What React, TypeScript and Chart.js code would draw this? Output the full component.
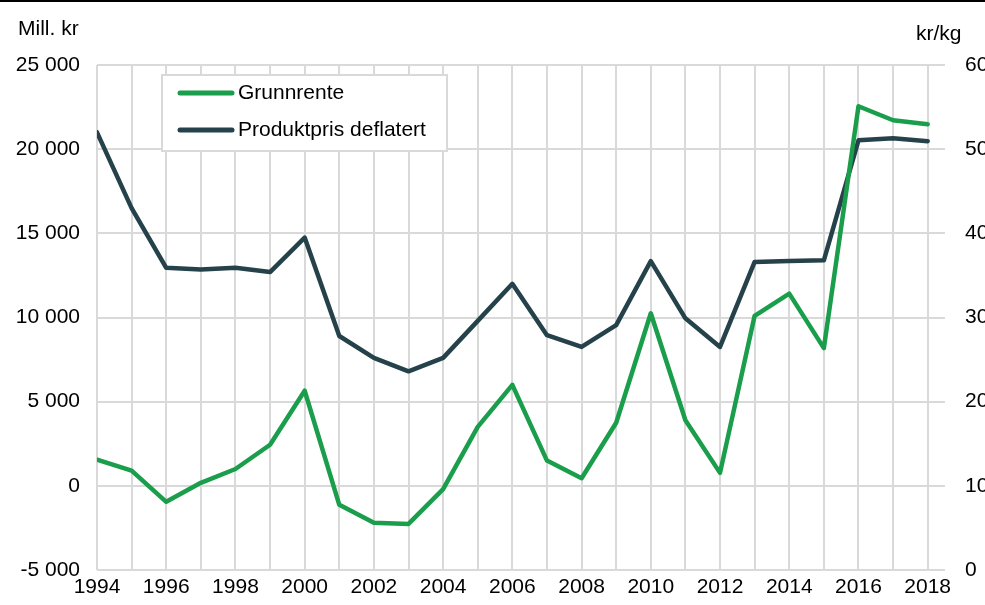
import React, { useEffect, useRef } from "react";
import { Chart, registerables } from "chart.js";

Chart.register(...registerables);

const years = [1994, 1995, 1996, 1997, 1998, 1999, 2000, 2001, 2002, 2003, 2004, 2005, 2006, 2007, 2008, 2009, 2010, 2011, 2012, 2013, 2014, 2015, 2016, 2017, 2018];
const grunnrente = [1550, 900, -950, 180, 1000, 2440, 5650, -1130, -2200, -2260, -200, 3500, 6000, 1500, 450, 3750, 10250, 3900, 770, 10100, 11420, 8180, 22550, 21720, 21480];
const produktpris = [52.0, 43.0, 35.9, 35.7, 35.9, 35.4, 39.5, 27.8, 25.2, 23.6, 25.2, 29.6, 34.0, 27.9, 26.5, 29.1, 36.7, 29.9, 26.5, 36.6, 36.7, 36.8, 51.05, 51.3, 50.95];
const seriesNames = ["Grunnrente", "Produktpris deflatert"];
const leftTitle = "Mill. kr";
const rightTitle = "kr/kg";

const GREEN = "#1a9e4b";
const DARK = "#25424a";
const GRID = "#d9d9d9";
const FONT = "'Liberation Sans', Arial, sans-serif";
const FS = 21;

function fmt(v: number) {
  const s = Math.abs(v).toString().replace(/\B(?=(\d{3})+(?!\d))/g, " ");
  return (v < 0 ? "-" : "") + s;
}

const overlay = {
  id: "overlay",
  afterDraw(chart: any) {
    const ctx = chart.ctx;
    ctx.save();
    // top rule
    ctx.fillStyle = "#000";
    ctx.fillRect(0, 0, chart.width, 2);
    // axis titles
    ctx.font = `${FS}px ${FONT}`;
    ctx.fillStyle = "#000";
    ctx.textBaseline = "middle";
    ctx.textAlign = "left";
    ctx.fillText(leftTitle, 18, 29);
    ctx.fillText(rightTitle, 916, 34);
    // legend
    const bx = 162, by = 75, bw = 285, bh = 76;
    ctx.fillStyle = "#fff";
    ctx.fillRect(bx, by, bw, bh);
    ctx.strokeStyle = GRID;
    ctx.lineWidth = 2;
    ctx.strokeRect(bx, by, bw, bh);
    const rows = [
      { y: 93, c: GREEN, t: seriesNames[0] },
      { y: 130, c: DARK, t: seriesNames[1] },
    ];
    rows.forEach((r) => {
      ctx.strokeStyle = r.c;
      ctx.lineWidth = 5;
      ctx.lineCap = "round";
      ctx.beginPath();
      ctx.moveTo(180, r.y);
      ctx.lineTo(232, r.y);
      ctx.stroke();
      ctx.fillStyle = "#000";
      ctx.fillText(r.t, 238, r.y);
    });
    ctx.restore();
  },
};

export default function App() {
  const ref = useRef<HTMLCanvasElement>(null);
  useEffect(() => {
    if (!ref.current) return;
    const chart = new Chart(ref.current, {
      type: "line",
      data: {
        datasets: [
          {
            label: seriesNames[0],
            data: years.map((y, i) => ({ x: y, y: grunnrente[i] })),
            borderColor: GREEN,
            backgroundColor: GREEN,
            borderWidth: 4.5,
            pointRadius: 0,
            tension: 0,
            yAxisID: "y",
            borderJoinStyle: "round",
            borderCapStyle: "round",
          },
          {
            label: seriesNames[1],
            data: years.map((y, i) => ({ x: y, y: produktpris[i] })),
            borderColor: DARK,
            backgroundColor: DARK,
            borderWidth: 4.5,
            pointRadius: 0,
            tension: 0,
            yAxisID: "y1",
            borderJoinStyle: "round",
            borderCapStyle: "round",
          },
        ],
      },
      options: {
        responsive: false,
        animation: false,
        layout: { padding: { top: 65, left: 0, right: 0, bottom: 0 } },
        plugins: { legend: { display: false }, tooltip: { enabled: false } },
        scales: {
          x: {
            type: "linear",
            min: 1994,
            max: 2018.5,
            afterFit: (s: any) => { s.height = 35; },
            border: { display: false },
            grid: { color: GRID, lineWidth: 2, drawTicks: false },
            ticks: {
              stepSize: 1,
              includeBounds: false,
              autoSkip: false,
              maxRotation: 0,
              padding: 5,
              color: "#000",
              font: { family: FONT, size: FS },
              callback: (v: any) => (Number(v) % 2 === 0 ? String(v) : ""),
            },
          },
          y: {
            position: "left",
            min: -5000,
            max: 25000,
            afterFit: (s: any) => { s.width = 97; },
            border: { display: false },
            grid: { color: GRID, lineWidth: 2, drawTicks: false },
            ticks: {
              stepSize: 5000,
              padding: 17,
              color: "#000",
              font: { family: FONT, size: FS },
              callback: (v: any) => fmt(Number(v)),
            },
          },
          y1: {
            position: "right",
            min: 0,
            max: 60,
            afterFit: (s: any) => { s.width = 40; },
            border: { display: false },
            grid: { drawOnChartArea: false, drawTicks: false },
            ticks: {
              stepSize: 10,
              padding: 20,
              color: "#000",
              font: { family: FONT, size: FS },
            },
          },
        },
      },
      plugins: [overlay],
    } as any);
    return () => chart.destroy();
  }, []);
  return (
    <div style={{ position: "absolute", left: 0, top: 0, width: 985, height: 605, background: "#fff" }}>
      <canvas ref={ref} width={985} height={605} style={{ display: "block" }} />
    </div>
  );
}
